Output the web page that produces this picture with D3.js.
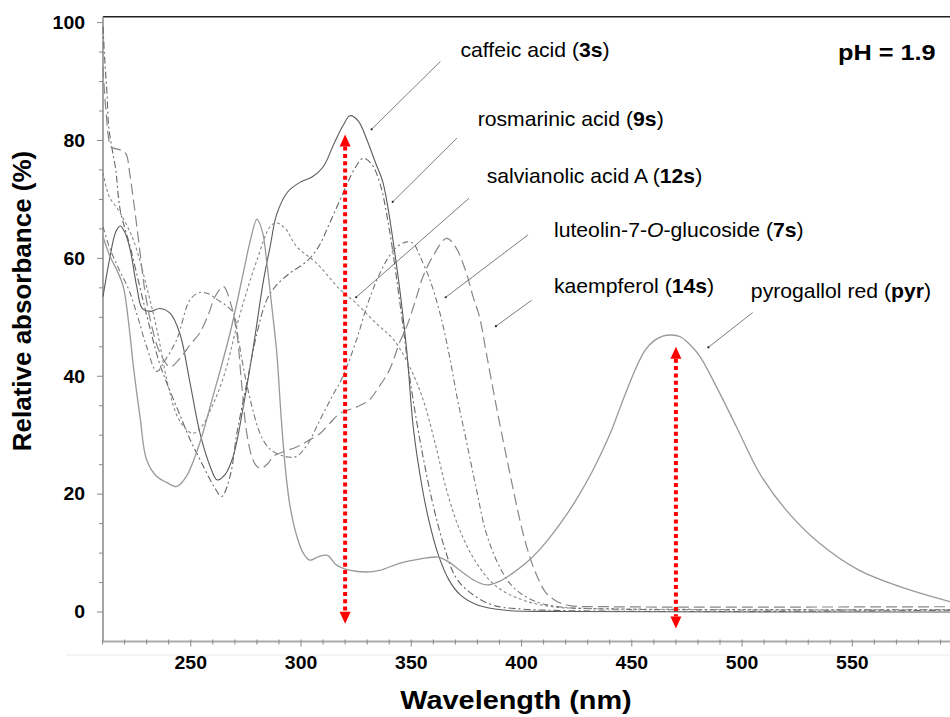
<!DOCTYPE html>
<html>
<head>
<meta charset="utf-8">
<script src="https://cdn.jsdelivr.net/npm/d3@7"></script>
<style>
  body { margin: 0; background: #fff; }
  svg { display: block; font-family: "Liberation Sans", Arial, Helvetica, sans-serif; }
</style>
</head>
<body>
<svg id="chart" width="950" height="717"></svg>
<script>
// ---- Spectra: wavelength (nm) and relative absorbance (%) ----
const caffeicNm  = [210.2,213,216,218,220,222.5,225.5,228,231.6,236,240.6,245,249.7,254.2,258.8,262,265.5,269.3,273.8,278.4,283,286,289,294,300,305,310,315,319,322.2,326,330,334,337.2,343.4,347.9,351,355,358,362,367,372,380,393,420,594.3];
const caffeicAbs = [53.5,59.5,64.5,65.5,64.5,61.5,55.2,51.5,51,51.5,50.7,47.3,38.8,30.3,24.7,22.4,23.3,26.5,34.8,45,56.3,62,67.5,71.3,73,73.8,75.5,79.5,82.5,84.2,83.3,80,76,72.8,58.6,44.5,31,21,15.5,10,5.5,3,1.2,0.3,0.1,0];

const rosmarinicNm  = [210.2,211,212,212.8,214.4,216,218,222.5,227,231.6,236,240.6,245,250,254,258,261,264,267.8,270.9,275.4,280,284.5,289,295,302.6,308,313,319,324,328.2,332,335.8,340,345,350,355,360,365,370,376,386,400,594.3];
const rosmarinicAbs = [99.3,93.7,88,82.3,78.4,75,68.2,62,55,48,42,37.5,33.5,29,26,23,21,19.6,23,30.3,38.8,47.3,53,55.5,57.5,59.5,62,66,71,75,77,76,72.7,65,52,38,27,18,11,6,3.5,1.3,0.5,0.3];

const salvianolicNm  = [210.2,213,216,218,224,230,235,239.5,244,248,251,255,259,265,272,280,286,289,293,298,307,318,325,334,342,349.4,355.4,360.7,366,372,379.6,388.7,400.8,414,430,594.3];
const salvianolicAbs = [74.5,70.5,68.8,67.7,63.1,55.2,47.3,38.8,33.1,31,30.3,31.5,34.3,40,50.1,59.7,65.4,66,65,62,59.2,54.6,52.4,49,46.2,41.5,36,28.8,20.7,13.9,8.3,4.3,2,0.9,0.6,0.4];

const luteolinNm  = [210.2,213,217,222,226,230,234.6,238,243.6,249.7,254,258,262,266,269.3,271.5,273.8,277,281.4,285,289,294,298,303,308.6,314,319,325,329.8,334,338.9,343,348,351,354,358.5,363,367,371,375,379.6,384,390,396,405,417,440,594.3];
const luteolinAbs = [65.4,62,58.5,54.6,50,45,40.8,42.5,46.2,53,54.2,54,53,52,50.7,46.5,41.6,36,30.3,28,26.9,26.3,26.4,28.5,32.6,36.5,40,46,51.8,56,59.7,61.8,62.8,62.5,60.3,56.3,50.7,44,36,29,20.7,13.4,7.7,4.3,2,0.9,0.5,0.4];

const kaempferolNm  = [210.2,211.5,213.7,215,218,220.5,222.5,224.6,227,229,232,236,240.6,245,250,254,258,261,264.8,268,271,273,275.4,278,280,282,285,287.4,292,298,303,308.6,313,317.7,325.3,331,335,340,345,348,352,355.4,360,366,370,375,378,381,384,388,391.7,395,399,402,405,408,411,416,422,440,594.3];
const kaempferolAbs = [92.5,85.2,79,78.7,78.4,77.8,73.9,68.2,61,55,49,44,41.6,43,45.5,47.3,50.5,53.5,55.2,52.5,47,39,30.3,26,24.7,24.4,25.2,26.4,27.2,28,29,30.3,32,33.7,34.8,36,38,41,46,48.5,53,57,60.5,63.4,62,57.5,53.5,50,44,36,29,23,16,11.5,8,5.3,3.3,1.8,1.1,0.9,0.9];

const pyrogallolNm  = [210.2,213.4,216.5,219.4,222,224,227,230,234.6,239,243.7,248,254,260,267.8,273.8,277,280,282.5,284.5,287,289,291,293,295,298,301,304,308,312,316,322,331,336,345,351,357,362,367,372,378,384,390,396,402,408,414,420,426,432,437,441,444,447.6,452,456,460,464,468,472,476,481,488.4,497.5,508,520,535,553,571.6,594.3];
const pyrogallolAbs = [63.7,60.3,58,55.2,48.5,41.6,33.1,25.8,23,22,21.3,23,28.6,36.5,47.3,57.5,63,66.6,64.5,59.2,51,44,33,24,18,13,10,8.8,9.4,9.6,8,7.1,6.8,7.1,8.3,8.8,9.2,9.3,8.5,7.1,5.5,4.6,5.2,6.6,8.3,10.5,13.2,16.3,19.8,23.8,27.6,31,34,37.5,41.5,44.4,46,46.8,47,46.7,45.5,43.3,38.2,31.4,23.5,17.3,11.7,7.1,4.3,1.75];

// ---- Axis ticks ----
const xTickLabels = [250, 300, 350, 400, 450, 500, 550];
const yTickLabels = [0, 20, 40, 60, 80, 100];

// ---- Marked wavelengths (double arrows): nm, top %, bottom % ----
const arrowNm     = [320, 470];
const arrowTop    = [81, 45];
const arrowBottom = [-2, -2.8];

// ---- Series styling ----
const series = [
  { name: "caffeic",     nm: caffeicNm,     abs: caffeicAbs,     color: "#5a5a5a", width: 1.1, dash: null },
  { name: "rosmarinic",  nm: rosmarinicNm,  abs: rosmarinicAbs,  color: "#666", width: 1.1, dash: "7,3,2,3" },
  { name: "salvianolic", nm: salvianolicNm, abs: salvianolicAbs, color: "#888", width: 1.1, dash: "3,2.5" },
  { name: "luteolin",    nm: luteolinNm,    abs: luteolinAbs,    color: "#777", width: 1.1, dash: "6,3,2,3" },
  { name: "kaempferol",  nm: kaempferolNm,  abs: kaempferolAbs,  color: "#888", width: 1.2, dash: "11,5" },
  { name: "pyrogallol",  nm: pyrogallolNm,  abs: pyrogallolAbs,  color: "#999", width: 1.3, dash: null }
];

// ---- Labels with leader lines (data coordinates: nm, %) ----
const labels = [
  { parts: [["caffeic acid (", ""], ["3s", "b"], [")", ""]],                         at: [372.3, 94.2], from: [363.2, 93.4], to: [332, 81.9] },
  { parts: [["rosmarinic acid (", ""], ["9s", "b"], [")", ""]],                      at: [380.1, 82.5], from: [370.7, 80.4], to: [341.6, 69.6] },
  { parts: [["salvianolic acid A (", ""], ["12s", "b"], [")", ""]],                  at: [384.2, 72.85], from: [376.2, 70.2], to: [325, 53.4] },
  { parts: [["luteolin-7-", ""], ["O", "i"], ["-glucoside (", ""], ["7s", "b"], [")", ""]], at: [414.7, 63.7], from: [403, 64], to: [365.6, 53.4] },
  { parts: [["kaempferol (", ""], ["14s", "b"], [")", ""]],                          at: [414.7, 54.1], from: [404.6, 52.9], to: [388.4, 48.5] },
  { parts: [["pyrogallol red (", ""], ["pyr", "b"], [")", ""]],                      at: [504, 53.3], from: [504.8, 50.8], to: [484.7, 44.9] }
];

const svg = d3.select("#chart");

const x = d3.scaleLinear().domain([210.2, 594.3]).range([103, 950]);
const y = d3.scaleLinear().domain([-5, 101]).range([641.5, 16.7]);

const xs = 1.08; // horizontal text stretch

// faint rule beneath the x axis
svg.append("line").attr("x1", 66).attr("x2", 950).attr("y1", 655).attr("y2", 655)
  .attr("stroke", "#ececec").attr("stroke-width", 1);

// top frame line
svg.append("line").attr("x1", x(210.2)).attr("x2", 950).attr("y1", y(101)).attr("y2", y(101))
  .attr("stroke", "#222").attr("stroke-width", 1.5);

// ---- Y axis ----
const yAxisG = svg.append("g").attr("transform", `translate(${x(210.2)},0)`);
yAxisG.append("line").attr("y1", y(101)).attr("y2", y(-5)).attr("stroke", "#888").attr("stroke-width", 1.5);
yAxisG.selectAll(".ymin").data(d3.range(0, 101, 5)).join("line")
  .attr("x1", d => d % 20 === 0 ? -6 : -4).attr("x2", 0)
  .attr("y1", d => y(d)).attr("y2", d => y(d))
  .attr("stroke", "#888").attr("stroke-width", 1);
svg.selectAll(".ylab").data(yTickLabels).join("text")
  .attr("transform", d => `translate(85,${y(d)}) scale(${xs},1)`)
  .attr("text-anchor", "end").attr("dominant-baseline", "central")
  .attr("font-size", 18).attr("font-weight", "bold").attr("fill", "#000")
  .text(d => d);

// ---- X axis ----
const xAxisG = svg.append("g");
xAxisG.append("line").attr("x1", x(210.2)).attr("x2", 950).attr("y1", y(-5)).attr("y2", y(-5))
  .attr("stroke", "#aaa").attr("stroke-width", 1.8);
xAxisG.selectAll(".xmin").data(d3.range(210, 595, 10)).join("line")
  .attr("x1", d => x(d)).attr("x2", d => x(d))
  .attr("y1", y(-5) - 2).attr("y2", d => d % 50 === 0 ? y(-5) + 5 : y(-5) + 3)
  .attr("stroke", "#888").attr("stroke-width", 1);
svg.selectAll(".xlab").data(xTickLabels).join("text")
  .attr("transform", d => `translate(${x(d)},669) scale(${xs},1)`)
  .attr("text-anchor", "middle")
  .attr("font-size", 18).attr("font-weight", "bold").attr("fill", "#000")
  .text(d => d);

// axis titles
svg.append("text")
  .attr("transform", `translate(516,709) scale(1.11,1)`)
  .attr("text-anchor", "middle").attr("font-size", 26).attr("font-weight", "bold")
  .text("Wavelength (nm)");
svg.append("text")
  .attr("transform", `translate(31,301) rotate(-90)`)
  .attr("text-anchor", "middle").attr("font-size", 26).attr("font-weight", "bold")
  .text("Relative absorbance (%)");

// ---- Spectra ----
const line = d3.line()
  .x(d => x(d[0]))
  .y(d => y(d[1]))
  .curve(d3.curveCatmullRom.alpha(0.5));

svg.append("g").selectAll("path").data(series).join("path")
  .attr("d", s => line(d3.zip(s.nm, s.abs)))
  .attr("fill", "none")
  .attr("stroke", s => s.color)
  .attr("stroke-width", s => s.width)
  .attr("stroke-dasharray", s => s.dash)
  .attr("stroke-linejoin", "round");

// ---- Double arrows at the marked wavelengths ----
const arrows = svg.append("g");
arrowNm.forEach((nm, i) => {
  const ax = x(nm), yt = y(arrowTop[i]), yb = y(arrowBottom[i]);
  const head = 12, half = 5.5;
  arrows.append("line")
    .attr("x1", ax).attr("x2", ax).attr("y1", yt + head).attr("y2", yb - head)
    .attr("stroke", "#ff0000").attr("stroke-width", 4).attr("stroke-dasharray", "4,3.3");
  arrows.append("path")
    .attr("d", `M${ax},${yt} L${ax - half},${yt + head} L${ax + half},${yt + head} Z`)
    .attr("fill", "#ff0000");
  arrows.append("path")
    .attr("d", `M${ax},${yb} L${ax - half},${yb - head} L${ax + half},${yb - head} Z`)
    .attr("fill", "#ff0000");
});

// ---- Labels and leader lines ----
const lab = svg.append("g");
labels.forEach(l => {
  lab.append("line")
    .attr("x1", x(l.from[0])).attr("y1", y(l.from[1]))
    .attr("x2", x(l.to[0])).attr("y2", y(l.to[1]))
    .attr("stroke", "#444").attr("stroke-width", 0.7);
  lab.append("circle").attr("cx", x(l.to[0])).attr("cy", y(l.to[1])).attr("r", 1.1).attr("fill", "#222");
  const t = lab.append("text")
    .attr("transform", `translate(${x(l.at[0])},${y(l.at[1])}) scale(1.06,1)`)
    .attr("font-size", 20).attr("fill", "#000");
  l.parts.forEach(([str, st]) => {
    const ts = t.append("tspan").text(str);
    if (st === "b") ts.attr("font-weight", "bold");
    if (st === "i") ts.attr("font-style", "italic");
  });
});

// pH annotation
svg.append("text")
  .attr("transform", `translate(838,60) scale(1.15,1)`)
  .attr("font-size", 22).attr("font-weight", "bold")
  .text("pH = 1.9");
</script>
</body>
</html>
